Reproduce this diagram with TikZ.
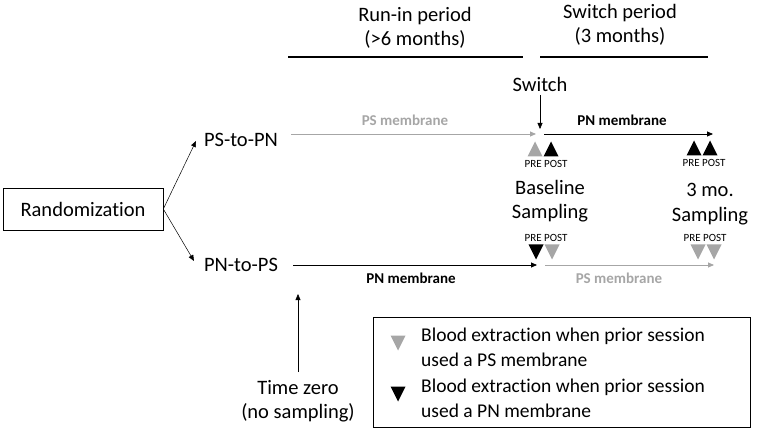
\documentclass[tikz,border=0pt]{standalone}
\usepackage{fontspec}
\setmainfont{Carlito}[RawFeature={-liga;-clig;-dlig}]
\usetikzlibrary{arrows.meta}
\definecolor{psgray}{HTML}{A6A6A6}
\tikzset{
  big/.style={font=\fontsize{20.5}{24.5}\selectfont, align=center, inner sep=0pt},
  legtext/.style={font=\fontsize{19.5}{25.5}\selectfont, align=left, inner sep=0pt},
  memb/.style={font=\fontsize{15}{17}\selectfont\bfseries, inner sep=0pt},
  tiny/.style={font=\fontsize{11}{12}\selectfont, inner sep=0pt},
  arr/.style={-{Triangle[length=6pt,width=5pt]}, line width=0.8pt},
  thinarr/.style={-{Triangle[length=6pt,width=5pt]}, line width=0.5pt},
  period/.style={line width=2.8pt},
}
\newcommand{\tup}[3]{\fill[#3] (#1-7.5,#2+7.5) -- (#1+7.5,#2+7.5) -- (#1,#2-7.5) -- cycle;}
\newcommand{\tdn}[3]{\fill[#3] (#1-7.5,#2-7.5) -- (#1+7.5,#2-7.5) -- (#1,#2+7.5) -- cycle;}
\begin{document}
\begin{tikzpicture}[x=1pt,y=-1pt]
\useasboundingbox (0,0) rectangle (760,430);
% headers
\node[big] (runin) at (415,28) {Run-in period\\(>6 months)};
\node[big] (swp) at (620,25) {Switch period\\(3 months)};
\coordinate (r1) at (288,57); \coordinate (r2) at (523,57);
\coordinate (s1) at (540,57); \coordinate (s2) at (708,57);
\draw[period] (r1) -- (r2);
\draw[period] (s1) -- (s2);
% switch
\node[big] (switch) at (540,84) {Switch};
\coordinate (swtop) at (540,95);
\coordinate (swend) at (540,129);
\draw[thinarr] (swtop) -- (swend);
% groups
\node[big] (psn) at (241,140) {PS-to-PN};
\node[big] (pns) at (241,265) {PN-to-PS};
\node[big, draw, line width=0.6pt, minimum width=160pt, minimum height=42pt] (rand) at (83,209) {Randomization};
\coordinate (psin) at (196,141);
\coordinate (pnin) at (194,261);
\draw[thinarr] (rand.east) -- (psin);
\draw[thinarr] (rand.east) -- (pnin);
% top timeline
\coordinate (t0) at (291,134); \coordinate (t1) at (536,134);
\coordinate (t2) at (544,134); \coordinate (t3) at (713,134);
\draw[arr, psgray] (t0) -- (t1);
\draw[arr, black] (t2) -- (t3);
\node[memb, text=psgray] (psm1) at (405,120) {PS membrane};
\node[memb] (pnm1) at (622,120) {PN membrane};
% bottom timeline
\coordinate (b0) at (293,265); \coordinate (b1) at (537,265);
\coordinate (b2) at (545,265); \coordinate (b3) at (714,265);
\draw[arr, black] (b0) -- (b1);
\draw[arr, psgray] (b2) -- (b3);
\node[memb] (pnm2) at (411,278) {PN membrane};
\node[memb, text=psgray] (psm2) at (619,278) {PS membrane};
% triangles top
\tup{535}{149}{psgray}
\tup{551}{149}{black}
\tup{694}{148}{black}
\tup{710}{148}{black}
\node[tiny] (pp1) at (546,164) {PRE POST};
\node[tiny] (pp2) at (704,163) {PRE POST};
% sampling labels
\node[big] (base) at (550,201) {Baseline\\Sampling};
\node[big] (three) at (710,204) {3 mo.\\Sampling};
% triangles bottom
\node[tiny] (pp3) at (546,238) {PRE POST};
\node[tiny] (pp4) at (705,238) {PRE POST};
\tdn{536}{252}{black}
\tdn{552}{252}{psgray}
\tdn{698}{252}{psgray}
\tdn{714}{252}{psgray}
% time zero
\node[big] (tz) at (298,401) {Time zero\\(no sampling)};
\coordinate (tzbot) at (298,372);
\coordinate (tzend) at (298,294);
\draw[thinarr] (tzbot) -- (tzend);
% legend
\node[draw, line width=0.6pt, minimum width=377pt, minimum height=110pt, inner sep=0pt] (leg) at (561.5,372) {};
\tdn{398}{343}{psgray}
\tdn{398}{394}{black}
\node[legtext, anchor=west] (l1) at (421,347.5) {Blood extraction when prior session\\used a PS membrane};
\node[legtext, anchor=west] (l2) at (421,398.5) {Blood extraction when prior session\\used a PN membrane};
\end{tikzpicture}
\end{document}
